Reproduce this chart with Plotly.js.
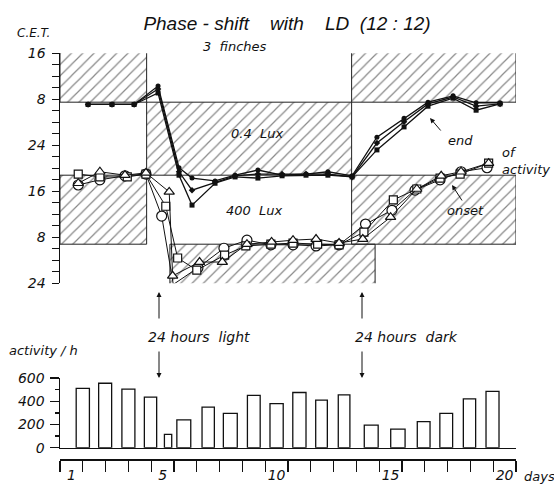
<!DOCTYPE html>
<html><head><meta charset="utf-8">
<script src="https://cdn.plot.ly/plotly-3.0.1.min.js"></script>
<style>html,body{margin:0;padding:0;background:#fff}#chart{width:554px;height:485px}</style>
</head><body><div id="chart"></div>
<script>
// ---- light regime: hatched blocks = dark (0.4 lux); x in days, h in hours of the double plot
const darkX0 = [0.5, 0.5, 4.30, 5.32, 13.29, 13.29];
const darkX1 = [4.30, 4.30, 13.29, 14.32, 20.5, 20.5];
const darkH0 = [31.5, 6.8, 18.8, -1, 31.5, 6.8];
const darkH1 = [41, 18.8, 31.5, 6.8, 41, 18.8];

// ---- end of activity (3 finches, filled symbols)
const endDays = [1.73, 2.78, 3.75, 4.80, 5.72, 6.29, 7.30, 8.18, 9.18, 10.24, 11.29, 12.25, 13.31, 14.40, 15.59, 16.64, 17.74, 18.75, 19.80];
const endA = [31.1, 31.1, 31.1, 34.3, 20.1, 18.3, 17.8, 18.8, 19.7, 18.8, 19.0, 19.4, 18.7, 25.4, 28.7, 31.5, 32.6, 31.4, 31.4];
const endB = [31.1, 31.1, 31.1, 33.8, 19.4, 16.2, 17.6, 18.7, 19.0, 19.0, 19.0, 19.0, 18.5, 24.4, 28.1, 31.2, 32.4, 30.8, 31.2];
const endC = [31.1, 31.1, 31.1, 33.1, 18.8, 13.6, 17.4, 18.5, 18.3, 18.7, 18.8, 18.8, 18.5, 23.2, 27.2, 30.8, 32.2, 30.1, 31.2];

// ---- onset of activity (3 finches, open symbols)
const onsetDaysO = [1.30, 2.25, 3.35, 4.27, 4.96, 5.47, 6.55, 7.69, 8.70, 9.75, 10.72, 11.73, 12.74, 13.90, 15.06, 16.07, 17.17, 18.09, 19.23];
const onsetDaysS = [1.30, 2.25, 3.45, 4.27, 5.14, 5.66, 6.50, 7.72, 8.65, 9.75, 10.72, 11.80, 12.74, 13.83, 15.12, 16.15, 17.17, 18.05, 19.30];
const onsetDaysT = [1.30, 2.25, 3.35, 4.27, 5.29, 5.44, 6.62, 7.62, 8.70, 9.78, 10.72, 11.73, 12.74, 13.78, 15.00, 16.15, 17.22, 18.09, 19.30];
const onsetO = [17.1, 18.0, 18.7, 19.0, 11.7, -0.2, 2.7, 6.1, 7.5, 6.7, 6.7, 6.5, 6.7, 10.3, 12.7, 16.2, 18.0, 19.4, 20.1];
const onsetS = [19.0, 18.5, 18.5, 19.0, 13.4, 4.4, 2.3, 4.9, 6.5, 6.8, 7.0, 6.8, 6.7, 8.9, 14.5, 16.4, 18.3, 19.0, 20.9];
const onsetT = [17.4, 19.4, 18.8, 19.2, 15.9, 1.3, 3.7, 3.7, 6.8, 7.2, 7.5, 7.7, 7.0, 7.7, 11.5, 16.4, 18.7, 19.4, 20.9];

// ---- activity per hour
const barDays = [1.5, 2.48, 3.5, 4.47, 5.24, 5.93, 7.0, 7.97, 9.0, 10.0, 11.0, 11.97, 12.96, 14.15, 15.32, 16.45, 17.44, 18.46, 19.47];
const activity = [510, 555, 505, 435, 115, 240, 350, 295, 450, 380, 475, 410, 455, 195, 160, 225, 295, 420, 485];

// ---- tick labels
const hourTickVals = [0, 8, 16, 24, 32, 40];
const hourTickText = ['24', '8', '16', '24', '8', '16'];
const actTickVals = [0, 200, 400, 600];
const actTickText = ['0', '200', '400', '600'];
const dayTickVals = [1, 5, 10, 15, 20];
const dayTickText = ['1', '5', '10', '15', '20'];

// ---- styles
const barWidths = [0.58, 0.57, 0.57, 0.54, 0.32, 0.61, 0.54, 0.61, 0.56, 0.58, 0.58, 0.51, 0.51, 0.61, 0.63, 0.56, 0.56, 0.54, 0.57];
const W = 554, H = 485;
const px = v => v / W, py = v => 1 - v / H;
const FONT = 'DejaVu Sans, sans-serif';
const itf = (s, fam) => ({family: fam || FONT, size: s, color: '#111', style: 'italic'});

const hourTicks = [], hourTickLabels = [];
for (let h = 0; h <= 40; h += 2) { hourTicks.push(h); const i = hourTickVals.indexOf(h); hourTickLabels.push(i >= 0 ? hourTickText[i] : ''); }
const dayBounds = []; for (let d = 0.5; d <= 20.5; d += 1) dayBounds.push(d);

const traces = [];
traces.push({
  type: 'bar', xaxis: 'x', yaxis: 'y',
  x: darkX0.map((v, i) => (v + darkX1[i]) / 2),
  width: darkX0.map((v, i) => darkX1[i] - v),
  base: darkH0, y: darkH0.map((v, i) => darkH1[i] - v),
  marker: {color: 'rgba(255,255,255,0)', line: {color: '#222', width: 1},
    pattern: {shape: '/', size: 8, solidity: 0.15, fgcolor: '#111', fillmode: 'overlay'}},
  hoverinfo: 'skip', showlegend: false
});
const endSym = ['circle', 'diamond', 'square'];
[endA, endB, endC].forEach((ser, k) => traces.push({
  type: 'scatter', mode: 'lines+markers', x: endDays, y: ser, xaxis: 'x', yaxis: 'y',
  line: {color: '#111', width: 1.3}, marker: {symbol: endSym[k], size: 5, color: '#111'},
  showlegend: false, cliponaxis: false
}));
const onSets = [[onsetDaysO, onsetO, 'circle', 10], [onsetDaysS, onsetS, 'square', 8], [onsetDaysT, onsetT, 'triangle-up', 9]];
onSets.forEach(([xs, ys, sym, sz]) => traces.push({
  type: 'scatter', mode: 'lines+markers', x: xs, y: ys, xaxis: 'x', yaxis: 'y',
  line: {color: '#111', width: 1}, marker: {symbol: sym, size: sz, color: '#fff', line: {color: '#111', width: 1.2}},
  showlegend: false, cliponaxis: false
}));
traces.push({
  type: 'bar', xaxis: 'x2', yaxis: 'y2', x: barDays, y: activity, width: barWidths,
  marker: {color: '#fff', line: {color: '#111', width: 1.3}}, showlegend: false
});

const xdom = [px(60), px(516)];
const ann = [];
const txt = (t, x, y, s, xa) => ann.push({text: t, x: px(x), y: py(y), xref: 'paper', yref: 'paper', showarrow: false, xanchor: xa || 'left', yanchor: 'middle', align: 'left', font: itf(s)});
const arr = (x, y, ax, ay) => ann.push({text: '', x: px(x), y: py(y), xref: 'paper', yref: 'paper', showarrow: true, ax: ax, ay: ay, arrowhead: 2, arrowsize: 1, arrowwidth: 1, arrowcolor: '#111'});
txt('C.E.T.', 15, 33, 12);
txt('3\u00a0\u00a0finches', 201, 47, 13);
txt('0.4\u00a0\u00a0Lux', 229, 133, 13);
txt('400\u00a0\u00a0Lux', 224, 210, 13);
txt('end', 446, 140, 13);
txt('of<br>activity', 500, 161, 13);
txt('onset', 445, 210, 13);
txt('24\u00a0hours\u00a0\u00a0light', 146, 337, 14);
txt('24\u00a0hours\u00a0\u00a0dark', 353, 337, 14);
txt('activity\u00a0/\u00a0h', 7, 350, 13);
txt('days', 522, 476, 13);
arr(159, 292, 0, 28); arr(159, 378, 0, -28);
arr(362, 292, 0, 28); arr(362, 378, 0, -28);
arr(430, 118, 12, 14); arr(452, 185, 11, 17);

const layout = {
  width: W, height: H, margin: {l: 0, r: 0, t: 0, b: 0},
  paper_bgcolor: '#fff', plot_bgcolor: 'rgba(0,0,0,0)',
  barmode: 'overlay', bargap: 0,
  title: {text: 'Phase\u00a0-\u00a0shift\u00a0\u00a0\u00a0 with\u00a0\u00a0\u00a0 LD\u00a0\u00a0(12\u00a0:\u00a012)', x: px(287), xanchor: 'center', y: py(23), yanchor: 'middle', font: itf(19, 'Liberation Sans, Arial, sans-serif')},
  xaxis: {domain: xdom, range: [0.5, 20.5], anchor: 'free', position: 26 / H, showline: true, linewidth: 1.5, linecolor: '#111',
    ticks: 'outside', ticklen: 11, tickwidth: 1.3, tickcolor: '#111', tickvals: dayBounds, showticklabels: false, showgrid: false, zeroline: false, fixedrange: true},
  xaxis2: {domain: xdom, range: [0.5, 20.5], anchor: 'y2', showline: true, linewidth: 1.5, linecolor: '#111',
    ticks: '', tickvals: dayTickVals, ticktext: dayTickText, ticklabelstandoff: 14, tickfont: itf(14), showgrid: false, zeroline: false},
  yaxis: {domain: [py(283.3), py(53.3)], range: [0, 40], anchor: 'x', showline: true, linewidth: 1.5, linecolor: '#111',
    ticks: 'outside', ticklen: 7, tickwidth: 1.3, tickcolor: '#111', tickvals: hourTicks, ticktext: hourTickLabels,
    tickfont: itf(14), ticklabelstandoff: 3, showgrid: false, zeroline: false},
  yaxis2: {domain: [py(447.7), py(378)], range: [0, 600], anchor: 'x2', showline: true, linewidth: 1.5, linecolor: '#111',
    ticks: 'outside', ticklen: 9, tickwidth: 1.3, tickcolor: '#111', tickvals: actTickVals, ticktext: actTickText,
    minor: {tickvals: [100, 300, 500], ticks: 'outside', ticklen: 4, tickcolor: '#111'},
    tickfont: itf(14), ticklabelstandoff: 2, showgrid: false, zeroline: false},
  annotations: ann
};
Plotly.newPlot('chart', traces, layout, {displayModeBar: false, staticPlot: true});
</script></body></html>
